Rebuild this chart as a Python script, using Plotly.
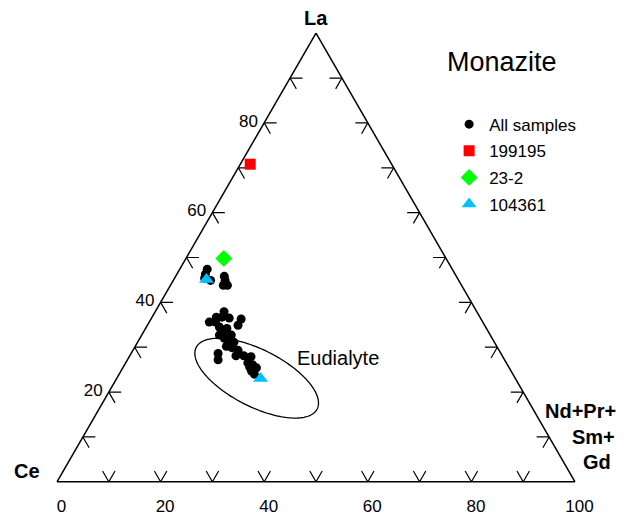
import math
import plotly.graph_objects as go

# ---------------- data (percent of La, Ce, Nd+Pr+Sm+Gd) ----------------
ALL_LA = [47.4, 46.3, 45.4, 44.9, 45.8, 44.9, 43.8, 43.8, 37.9, 36.7, 36.7, 35.6, 35.6,
          36.5, 36.3, 34.9, 34.5, 33.3, 34.2, 32.7, 32.0, 32.7, 31.1, 30.8, 30.2, 29.9,
          28.6, 27.2, 29.3, 28.1, 28.1, 27.9, 26.5, 26.1, 24.7, 25.4, 25.6, 24.0]
ALL_CE = [47.3, 48.2, 48.8, 47.9, 44.8, 45.1, 46.0, 45.2, 48.8, 50.9, 49.8, 52.8, 51.6,
          48.5, 46.3, 47.6, 51.4, 51.3, 50.1, 50.0, 51.7, 52.3, 50.3, 51.4, 52.2, 51.3,
          54.6, 55.3, 50.4, 51.4, 49.9, 48.6, 49.9, 49.2, 50.1, 48.8, 50.0, 49.9]
ALL_ND = [5.3, 5.5, 5.8, 7.2, 9.4, 10.0, 10.2, 11.0, 13.3, 12.4, 13.5, 11.6, 12.8,
          15.0, 17.4, 17.5, 14.1, 15.4, 15.7, 17.3, 16.3, 15.0, 18.6, 17.8, 17.6, 18.8,
          16.8, 17.5, 20.3, 20.5, 22.0, 23.5, 23.6, 24.7, 25.2, 25.8, 24.4, 26.1]

S199195_LA, S199195_CE, S199195_ND = [70.8], [27.3], [1.9]
S232_LA, S232_CE, S232_ND = [49.8], [42.9], [7.3]
S104361_LA = [45.1, 23.0]
S104361_CE = [48.6, 49.2]
S104361_ND = [6.3, 27.8]

# Eudialyte field (ellipse): centre, semi-axes (in % units) and tilt
EUD_LA, EUD_ND = 23.1, 27.0
EUD_SEMI_MAJOR, EUD_SEMI_MINOR = 13.1, 5.5
EUD_TILT_DEG = -27.0

TICK_VALUES = [10, 20, 30, 40, 50, 60, 70, 80, 90]
A_LABELS = [20, 40, 60, 80]
B_LABEL_VALUES = [100, 80, 60, 40, 20, 0]          # Ce values on the bottom edge
B_LABEL_TEXT = ["0", "20", "40", "60", "80", "100"]  # shown as Nd+Pr+Sm+Gd

FONT = "Liberation Sans, Arial, Helvetica, sans-serif"

fig = go.Figure()

# --------- chevron ticks (stubs along the two grid directions) ---------
TL = 2.4
ta, tb, tc = [], [], []
for v in TICK_VALUES:
    # left edge (La ticks)
    ta += [v, v, v - TL, None]
    tb += [100 - v - TL, 100 - v, 100 - v, None]
    tc += [TL, 0, TL, None]
    # bottom edge (Nd ticks)
    ta += [TL, 0, TL, None]
    tb += [100 - v - TL, 100 - v, 100 - v, None]
    tc += [v, v, v - TL, None]
    # right edge
    ta += [v, v, v - TL, None]
    tb += [TL, 0, TL, None]
    tc += [100 - v - TL, 100 - v, 100 - v, None]
fig.add_trace(go.Scatterternary(a=ta, b=tb, c=tc, mode="lines",
                                line=dict(color="black", width=1.2),
                                showlegend=False, hoverinfo="skip", cliponaxis=False))

# --------- Eudialyte ellipse ---------
r3 = math.sqrt(3) / 2
xc = EUD_ND + EUD_LA / 2
yc = EUD_LA * r3
phi = math.radians(EUD_TILT_DEG)
ea, eb, ec = [], [], []
for i in range(181):
    t = 2 * math.pi * i / 180
    x = xc + EUD_SEMI_MAJOR * math.cos(t) * math.cos(phi) - EUD_SEMI_MINOR * math.sin(t) * math.sin(phi)
    y = yc + EUD_SEMI_MAJOR * math.cos(t) * math.sin(phi) + EUD_SEMI_MINOR * math.sin(t) * math.cos(phi)
    a = y / r3
    c = x - a / 2
    ea.append(a); ec.append(c); eb.append(100 - a - c)
fig.add_trace(go.Scatterternary(a=ea, b=eb, c=ec, mode="lines",
                                line=dict(color="black", width=1.3),
                                showlegend=False, hoverinfo="skip"))

# --------- samples ---------
fig.add_trace(go.Scatterternary(a=ALL_LA, b=ALL_CE, c=ALL_ND, mode="markers",
                                name="All samples", legendgroup="g1",
                                marker=dict(symbol="circle", size=9, color="black"),
                                cliponaxis=False))
fig.add_trace(go.Scatterternary(a=S199195_LA, b=S199195_CE, c=S199195_ND, mode="markers",
                                name="199195", legendgroup="g2",
                                marker=dict(symbol="square", size=11, color="#ff0000"),
                                cliponaxis=False))
fig.add_trace(go.Scatterternary(a=S232_LA, b=S232_CE, c=S232_ND, mode="markers",
                                name="23-2", legendgroup="g3",
                                marker=dict(symbol="diamond", size=13, color="#00ff00"),
                                cliponaxis=False))
fig.add_trace(go.Scatterternary(a=S104361_LA, b=S104361_CE, c=S104361_ND, mode="markers",
                                name="104361", legendgroup="g4",
                                marker=dict(symbol="triangle-up", size=13, color="#00c0ff"),
                                cliponaxis=False))

axis_common = dict(showgrid=False, showline=True, linecolor="black", linewidth=1.5,
                   title=dict(text=""), tickfont=dict(size=17, family=FONT, color="black"),
                   tickcolor="rgba(0,0,0,0)", ticks="outside")

# the page body adds an 8px offset, so the figure is 8px smaller than the window
fig.update_layout(
    width=620, height=508,
    margin=dict(l=49, r=53, t=25, b=34),
    paper_bgcolor="white",
    font=dict(family=FONT, color="black", size=17),
    ternary=dict(
        sum=100, bgcolor="white", domain=dict(x=[0, 1], y=[0, 1]),
        aaxis=dict(axis_common, tickmode="array", tickvals=A_LABELS,
                   ticktext=[str(v) for v in A_LABELS], ticklen=3),
        baxis=dict(axis_common, tickmode="array", tickvals=B_LABEL_VALUES,
                   ticktext=B_LABEL_TEXT, ticklen=9),
        caxis=dict(axis_common, showticklabels=False, ticklen=0),
    ),
    legend=dict(x=0.757, y=0.836, xanchor="left", yanchor="top",
                font=dict(size=17, family=FONT, color="black"),
                bgcolor="rgba(0,0,0,0)", tracegroupgap=1.5, traceorder="grouped"),
    showlegend=True,
)

annos = [
    dict(text="<b>La</b>", x=0.5, y=1.0334, size=20, xanchor="center"),
    dict(text="<b>Ce</b>", x=-0.0579, y=0.0245, size=20, xanchor="center"),
    dict(text="<b>Nd+Pr+</b>", x=1.083, y=0.1588, size=20, xanchor="right"),
    dict(text="<b>Sm+</b>", x=1.081, y=0.0996, size=20, xanchor="right"),
    dict(text="<b>Gd</b>", x=1.0734, y=0.0452, size=20, xanchor="right"),
    dict(text="Monazite", x=0.859, y=0.935, size=27, xanchor="center"),
    dict(text="Eudialyte", x=0.5425, y=0.2762, size=20, xanchor="center"),
]
for an in annos:
    fig.add_annotation(text=an["text"], x=an["x"], y=an["y"], xref="paper", yref="paper",
                       xanchor=an["xanchor"], yanchor="middle", showarrow=False,
                       font=dict(size=an["size"], family=FONT, color="black"))

fig.write_html("out.html")
